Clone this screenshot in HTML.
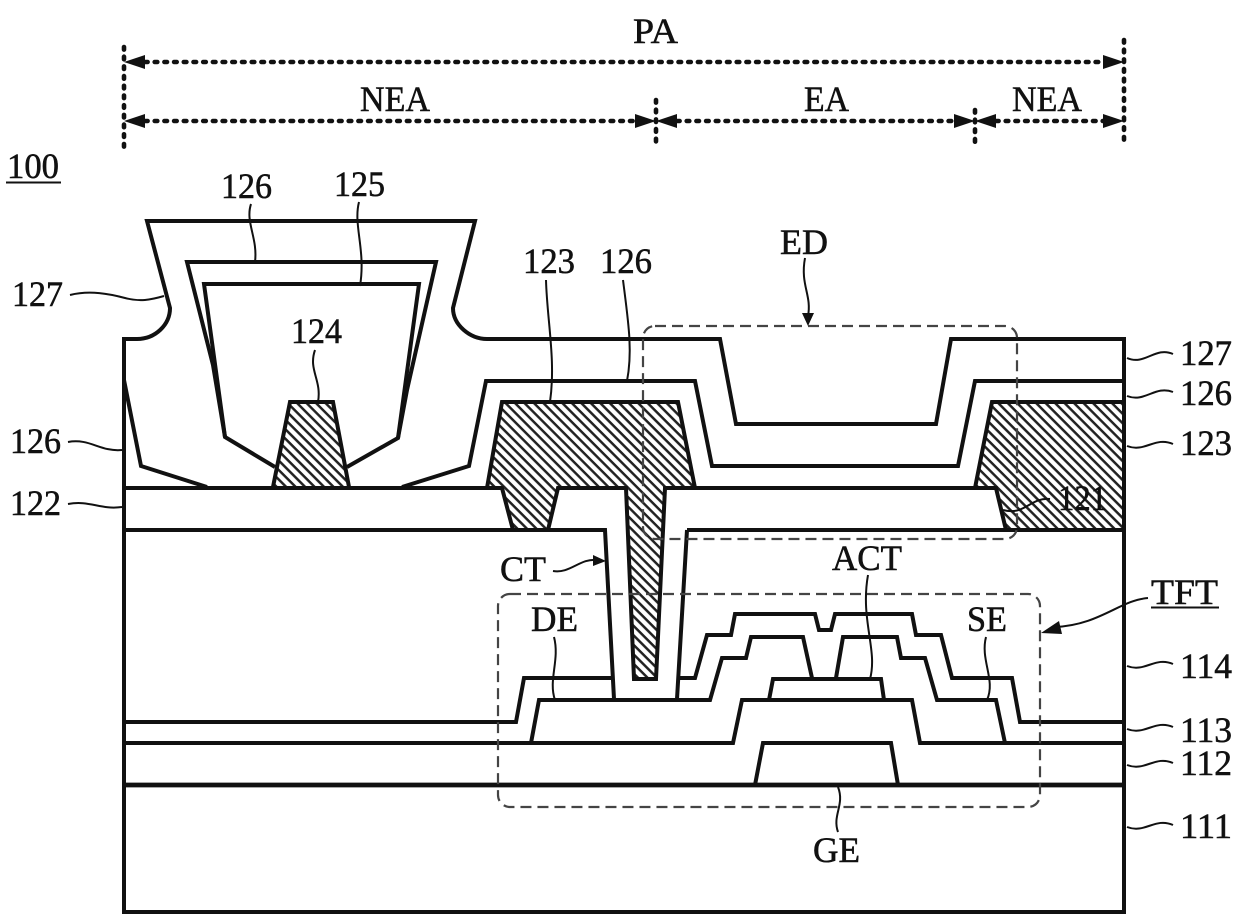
<!DOCTYPE html>
<html><head><meta charset="utf-8"><style>
html,body{margin:0;padding:0;background:#fff}
svg{display:block}
text{font-family:"Liberation Serif",serif;font-size:36px;fill:#111;stroke:#111;stroke-width:.55}
.m{fill:none;stroke:#111;stroke-width:4;stroke-linejoin:miter}
.l{fill:none;stroke:#111;stroke-width:2}
.d{fill:none;stroke:#111;stroke-width:4.6;stroke-dasharray:2.6 7.1;stroke-linecap:round}
.b{fill:none;stroke:#444;stroke-width:2.2;stroke-dasharray:11 6}
</style></head><body>
<svg width="1240" height="920" viewBox="0 0 1240 920" xmlns="http://www.w3.org/2000/svg">
<defs><pattern id="h" width="6.7" height="6.7" patternUnits="userSpaceOnUse" patternTransform="rotate(45)"><rect width="6.7" height="6.7" fill="#fff"/><rect width="6.7" height="2.5" fill="#222"/></pattern></defs>

<!-- dimension lines -->
<path class="d" d="M124 47V148M1124 40V140M656 100V144M975 110V144M145 62H1105M145 121H636M677 121H955M996 121H1105"/>
<path fill="#111" d="M124 62l21-7v14zM1124 62l-21-7v14zM124 121l21-7v14zM656 121l-21-7v14zM656 121l21-7v14zM975 121l-21-7v14zM975 121l21-7v14zM1124 121l-21-7v14z"/>

<!-- hatched -->
<path fill="url(#h)" stroke="none" d="M290 402H333L349 487H273Z"/>
<path fill="url(#h)" stroke="none" d="M502 402H678L695 488H665L656 679H634L626 488H558L548 530H513L502 488H487Z"/>
<path fill="url(#h)" stroke="none" d="M992 402H1124V530H1006L996 488H975Z"/>

<!-- structure -->
<path class="m" d="M124 912V339H137C155 339 170 325 170 308L147 221H475L453 308C453 325 470 339 487 339H720L736 424H936L951 339H1124V912Z"/>
<path class="m" d="M275 467L225 437L204 284H419L398 438L347 467"/>
<path class="m" d="M225 437L213 365L187 262H436L407 390L398 438"/>
<path class="m" d="M124 380L141 466L207 487M402 487L469 466L486 381H695L712 466H958L975 381H1124"/>
<path class="m" d="M273 487L290 402H333L349 487"/>
<path class="m" d="M487 488L502 402H678L695 488M975 488L992 402H1124"/>
<path class="m" d="M124 488H502L513 530M548 530L558 488H626L634 679H656L665 488H996L1006 530"/>
<path class="m" d="M124 530H605L614 699M687 530L677 699M687 530H1124"/>
<path class="m" d="M124 722H516L524 678H612M678 678H695L707 635H731L735 614H815L819 630H831L835 614H912L916 635H941L952 678H1012L1020 722H1124"/>
<path class="m" d="M531 743L539 700H710L722 658H746L751 637H803L812 678M836 678L843 637H897L901 658H925L937 700H996L1005 743"/>
<path class="m" d="M769 700L773 679H881L884 700"/>
<path class="m" d="M124 743H733L742 700H912L920 743H1124"/>
<path class="m" d="M755 785L763 743H891L898 785"/>
<path class="m" style="stroke-width:4.8" d="M124 785H1124"/>

<!-- dashed boxes -->
<rect class="b" x="643" y="326" width="374" height="213" rx="12"/>
<rect class="b" x="498" y="594" width="542" height="213" rx="12"/>

<!-- leaders -->
<path class="l" d="M70 295C90 290 110 294 125 298S150 300 164 296"/>
<path class="l" d="M251 204C245 222 258 238 255 262"/>
<path class="l" d="M359 202C353 225 366 250 360 286"/>
<path class="l" d="M315 350C308 370 322 380 318 402"/>
<path class="l" d="M68 442C90 438 100 452 122 450"/>
<path class="l" d="M68 504C90 500 100 510 122 507"/>
<path class="l" d="M546 280C547 320 556 360 550 402"/>
<path class="l" d="M623 280C628 320 633 350 627 381"/>
<path class="l" d="M805 258C800 285 812 295 808 316"/>
<path fill="#111" d="M808 326l-6-13h12z"/>
<path class="l" d="M553 571C570 574 580 558 597 560"/>
<path fill="#111" d="M606 561l-13-6v11z"/>
<path class="l" d="M554 637C560 660 548 680 555 700"/>
<path class="l" d="M986 637C980 660 996 680 987 700"/>
<path class="l" d="M868 575C860 620 878 650 870 679"/>
<path class="l" d="M838 787C845 805 832 815 838 832"/>
<path class="l" d="M1127 358C1145 366 1155 346 1173 354"/>
<path class="l" d="M1127 396C1145 403 1155 385 1173 392"/>
<path class="l" d="M1127 446C1145 453 1155 436 1173 444"/>
<path class="l" d="M1127 666C1145 673 1155 656 1173 664"/>
<path class="l" d="M1127 729C1145 736 1155 719 1173 727"/>
<path class="l" d="M1127 765C1145 772 1155 755 1173 763"/>
<path class="l" d="M1127 827C1145 834 1155 817 1173 825"/>
<path class="l" d="M1003 510C1025 516 1030 497 1050 499"/>
<path class="l" d="M1148 598C1120 600 1100 625 1055 627"/>
<path fill="#111" d="M1041 633l18-12l3 13z"/>

<!-- labels -->
<text x="633" y="43" textLength="45" lengthAdjust="spacingAndGlyphs">PA</text>
<text x="360" y="111" textLength="70" lengthAdjust="spacingAndGlyphs">NEA</text>
<text x="804" y="111" textLength="45" lengthAdjust="spacingAndGlyphs">EA</text>
<text x="1012" y="111" textLength="70" lengthAdjust="spacingAndGlyphs">NEA</text>
<text x="7" y="178" textLength="52" lengthAdjust="spacingAndGlyphs">100</text>
<path d="M6 182.500H61" stroke="#111" stroke-width="2"/>
<text x="221" y="198" textLength="51" lengthAdjust="spacingAndGlyphs">126</text>
<text x="334" y="196" textLength="51" lengthAdjust="spacingAndGlyphs">125</text>
<text x="12" y="306" textLength="51" lengthAdjust="spacingAndGlyphs">127</text>
<text x="291" y="343" textLength="51" lengthAdjust="spacingAndGlyphs">124</text>
<text x="10" y="453" textLength="51" lengthAdjust="spacingAndGlyphs">126</text>
<text x="10" y="515" textLength="51" lengthAdjust="spacingAndGlyphs">122</text>
<text x="523" y="273" textLength="52" lengthAdjust="spacingAndGlyphs">123</text>
<text x="600" y="273" textLength="52" lengthAdjust="spacingAndGlyphs">126</text>
<text x="780" y="254" textLength="48" lengthAdjust="spacingAndGlyphs">ED</text>
<text x="1058" y="510" textLength="49" lengthAdjust="spacingAndGlyphs">121</text>
<text x="1180" y="365" textLength="52" lengthAdjust="spacingAndGlyphs">127</text>
<text x="1180" y="405" textLength="52" lengthAdjust="spacingAndGlyphs">126</text>
<text x="1180" y="455" textLength="52" lengthAdjust="spacingAndGlyphs">123</text>
<text x="1180" y="678" textLength="52" lengthAdjust="spacingAndGlyphs">114</text>
<text x="1180" y="742" textLength="52" lengthAdjust="spacingAndGlyphs">113</text>
<text x="1180" y="775" textLength="52" lengthAdjust="spacingAndGlyphs">112</text>
<text x="1180" y="838" textLength="52" lengthAdjust="spacingAndGlyphs">111</text>
<text x="500" y="581" textLength="46" lengthAdjust="spacingAndGlyphs">CT</text>
<text x="832" y="570" textLength="70" lengthAdjust="spacingAndGlyphs">ACT</text>
<text x="531" y="631" textLength="47" lengthAdjust="spacingAndGlyphs">DE</text>
<text x="967" y="631" textLength="40" lengthAdjust="spacingAndGlyphs">SE</text>
<text x="1151" y="604" textLength="67" lengthAdjust="spacingAndGlyphs">TFT</text>
<path d="M1151 607.500H1219" stroke="#111" stroke-width="2"/>
<text x="813" y="862" textLength="47" lengthAdjust="spacingAndGlyphs">GE</text>
</svg>
</body></html>
